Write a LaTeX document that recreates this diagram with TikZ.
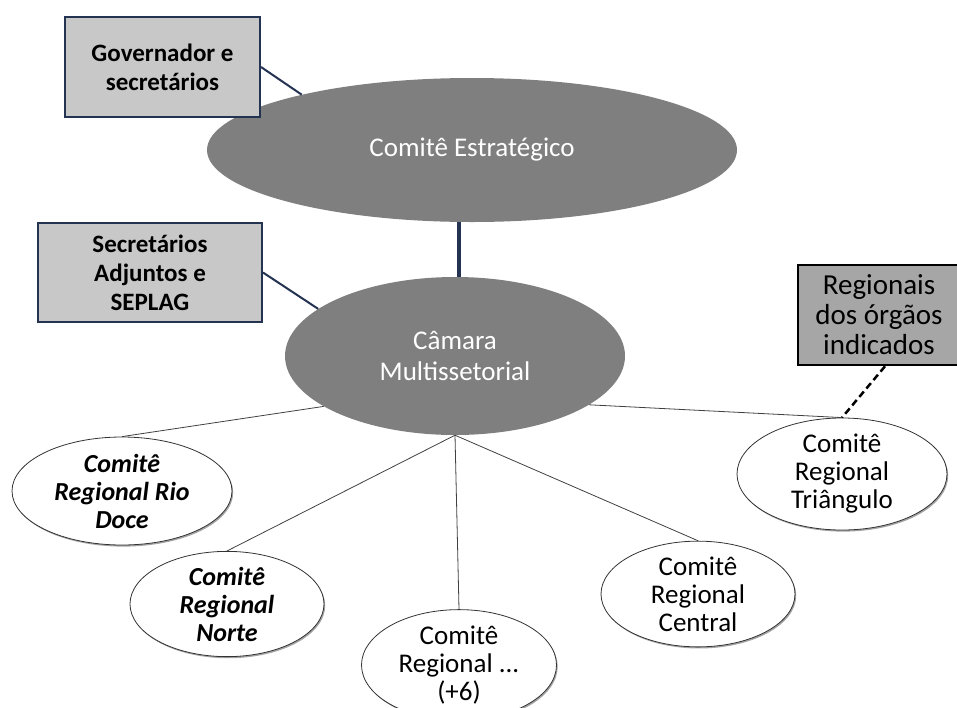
\documentclass[tikz,border=0pt]{standalone}
\usepackage{fontspec}
\setmainfont{Carlito}
\usetikzlibrary{shapes.geometric,shadows}
\definecolor{navy}{HTML}{243352}
\definecolor{boxgray}{HTML}{C8C8C8}
\definecolor{boxdark}{HTML}{A6A6A6}
\definecolor{ellgray}{HTML}{7F7F7F}
\begin{document}
\begin{tikzpicture}[x=1pt,y=-1pt,
  bigell/.style={ellipse, fill=ellgray, text=white, align=center, inner sep=0pt,
    font=\fontsize{27}{31}\selectfont},
  smallell/.style={ellipse, draw=black!80, line width=0.8pt, fill=white, align=center, inner sep=0pt,
    font=\fontsize{27}{28}\selectfont,
    drop shadow={shadow xshift=1.2pt, shadow yshift=-1.6pt, fill=black!45, opacity=0.8}},
  lbox/.style={rectangle, draw=navy, line width=2pt, fill=boxgray, align=center, inner sep=0pt,
    font=\fontsize{25}{29}\selectfont\bfseries},
  dbox/.style={rectangle, draw=black, line width=2.5pt, fill=boxdark, align=center, inner sep=0pt,
    font=\fontsize{29}{30}\selectfont},
  navyline/.style={draw=navy, line width=2pt},
  thinline/.style={draw=black!75, line width=0.8pt}
]
\useasboundingbox (0,0) rectangle (957,707);
\begin{scope}
\clip (0,0) rectangle (957,707);

\node[bigell, minimum width=530pt, minimum height=144pt] (est) at (472,150) {Comitê Estratégico};
\node[bigell, minimum width=340pt, minimum height=158pt] (cam) at (455,356) {Câmara\\Multissetorial};

\node[lbox, minimum width=195pt, minimum height=100pt] (gov) at (162.5,67) {Governador e\\secretários};
\node[lbox, minimum width=224pt, minimum height=99pt] (sec) at (150,272.5) {Secretários\\Adjuntos e\\SEPLAG};
\node[dbox, minimum width=162pt, minimum height=100pt] (reg) at (879,315) {Regionais\\dos órgãos\\indicados};

\node[smallell, minimum width=220pt, minimum height=108pt, font=\fontsize{26}{28}\selectfont\bfseries\itshape] (rio) at (122,491) {Comitê\\Regional Rio\\Doce};
\node[smallell, minimum width=194pt, minimum height=98pt, font=\fontsize{26}{28}\selectfont\bfseries\itshape] (nor) at (227,604) {Comitê\\Regional\\Norte};
\node[smallell, minimum width=195pt, minimum height=100pt] (mais) at (459,665) {Comitê\\Regional ...\\(+6)};
\node[smallell, minimum width=194pt, minimum height=98pt] (cen) at (698,594) {Comitê\\Regional\\Central};
\node[smallell, minimum width=210pt, minimum height=102pt] (tri) at (842,474) {Comitê\\Regional\\Triângulo};

\draw[navyline] (gov.east) -- (est.162);
\draw[navyline] (sec.east) -- (cam.161);
\draw[draw=navy, line width=4pt] ([xshift=4pt]cam.north) -- ([xshift=4pt]cam.north |- est.south);
\draw[black, line width=2.5pt, dash pattern=on 7pt off 4pt] ([xshift=6pt]reg.south) -- (tri.north);

\draw[thinline] (cam.-159) -- (rio.north);
\draw[thinline] (cam.south) -- (nor.north);
\draw[thinline] (cam.south) -- (mais.north);
\draw[thinline] (cam.south) -- (cen.north);
\draw[thinline] (cam.-20) -- (tri.north);
\end{scope}
\end{tikzpicture}
\end{document}
